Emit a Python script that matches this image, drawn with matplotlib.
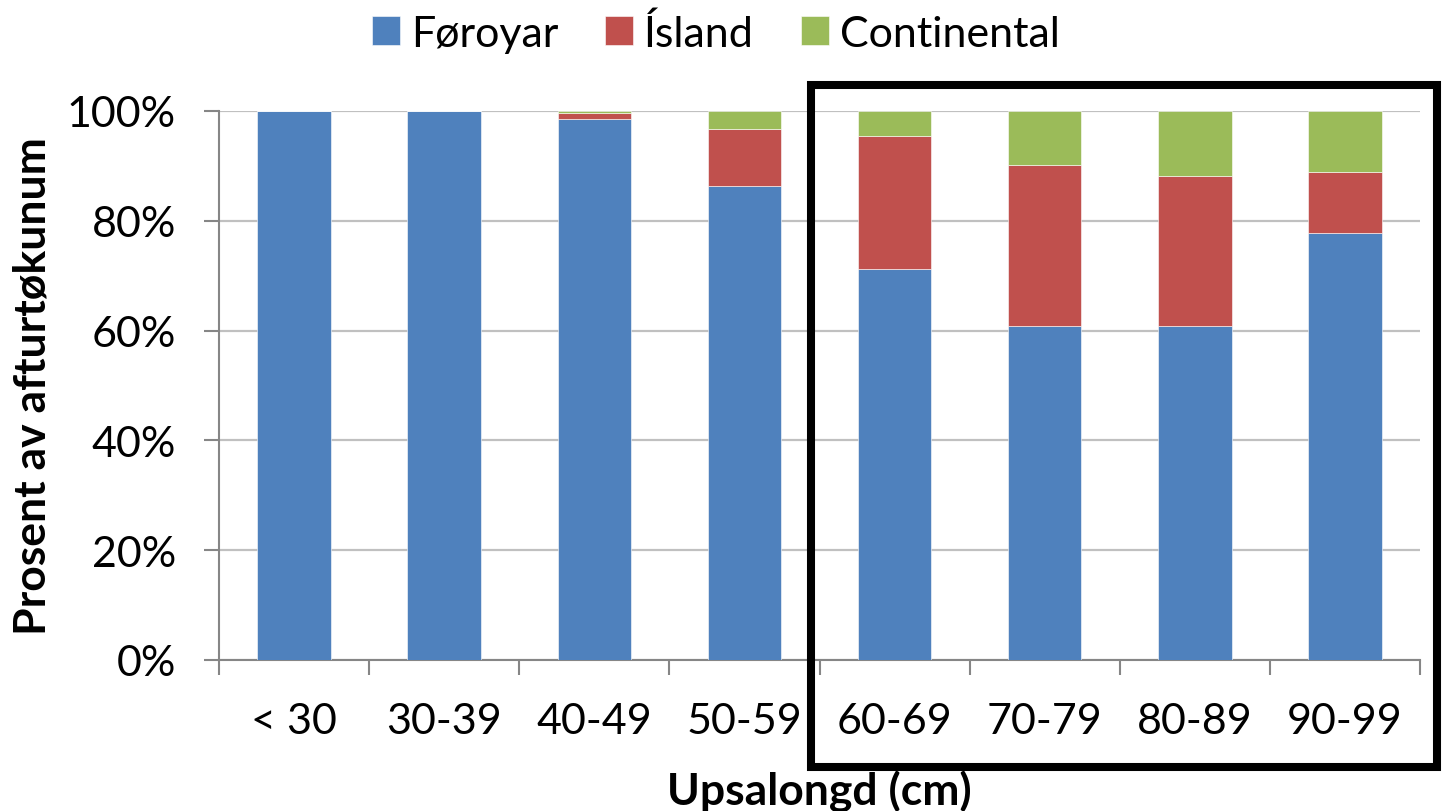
import matplotlib.pyplot as plt
import matplotlib.patches as patches
from matplotlib.ticker import PercentFormatter
import numpy as np

# Share of returns by length group (percent).
categories = ['< 30', '30-39', '40-49', '50-59', '60-69', '70-79', '80-89', '90-99']
foroyar = [100.0, 100.0, 98.6, 86.3, 71.3, 60.9, 60.8, 77.8]
island = [0.0, 0.0, 1.0, 10.4, 24.1, 29.3, 27.4, 11.1]
continental = [0.0, 0.0, 0.4, 3.3, 4.6, 9.8, 11.8, 11.1]

colors = ['#4F81BD', '#C0504D', '#9BBB59']
labels = ['Føroyar', 'Ísland', 'Continental']

plt.rcParams['font.family'] = ['Lato', 'DejaVu Sans']

fig = plt.figure(figsize=(14.42, 8.12), dpi=100)
ax = fig.add_axes([219 / 1442, 1 - 661 / 812, 1201 / 1442, 549 / 812])

x = np.arange(len(categories))
bottom = np.zeros(len(categories))
for vals, col, lab in zip([foroyar, island, continental], colors, labels):
    ax.bar(x, vals, width=0.49, bottom=bottom, color=col, label=lab,
           edgecolor='white', linewidth=0.4, zorder=3)
    bottom += np.array(vals)

# Axes formatting.
ax.set_xlim(-0.5, len(categories) - 0.5)
ax.set_ylim(0, 100)
ax.set_yticks(np.arange(0, 101, 20))
ax.yaxis.set_major_formatter(PercentFormatter(decimals=0))
ax.grid(axis='y', color='#C0C0C0', linewidth=1.6, zorder=0)

ax.set_xticks(x)
ax.set_xticklabels(categories)
ax.set_xticks(np.arange(-0.5, len(categories), 1), minor=True)
ax.tick_params(axis='x', which='major', length=0, pad=30, labelsize=31)
ax.tick_params(axis='x', which='minor', length=11, width=1.5, color='#868686')
ax.tick_params(axis='y', length=11, width=1.5, color='#868686', pad=20, labelsize=31)

for side in ['top', 'right']:
    ax.spines[side].set_visible(False)
for side in ['left', 'bottom']:
    ax.spines[side].set_color('#868686')
    ax.spines[side].set_linewidth(1.5)

ax.set_xlabel('Upsalongd (cm)', fontsize=32, fontweight='bold', labelpad=22)
ax.set_ylabel('Prosent av afturtøkunum', fontsize=32, fontweight='bold', labelpad=10)

fig.legend(loc='center', bbox_to_anchor=(716 / 1442, 1 - 34 / 812), ncol=3, frameon=False,
           fontsize=31, handlelength=0.65, handleheight=0.65, handletextpad=0.25,
           columnspacing=1.1)

# Highlight box around the larger length groups.
rect = patches.Rectangle((811 / 1442, 1 - 768 / 812), 626 / 1442, 682 / 812,
                         transform=fig.transFigure, fill=False, edgecolor='black',
                         linewidth=5.8, clip_on=False, zorder=10)
fig.patches.append(rect)

fig.savefig('out.png', dpi=100)
